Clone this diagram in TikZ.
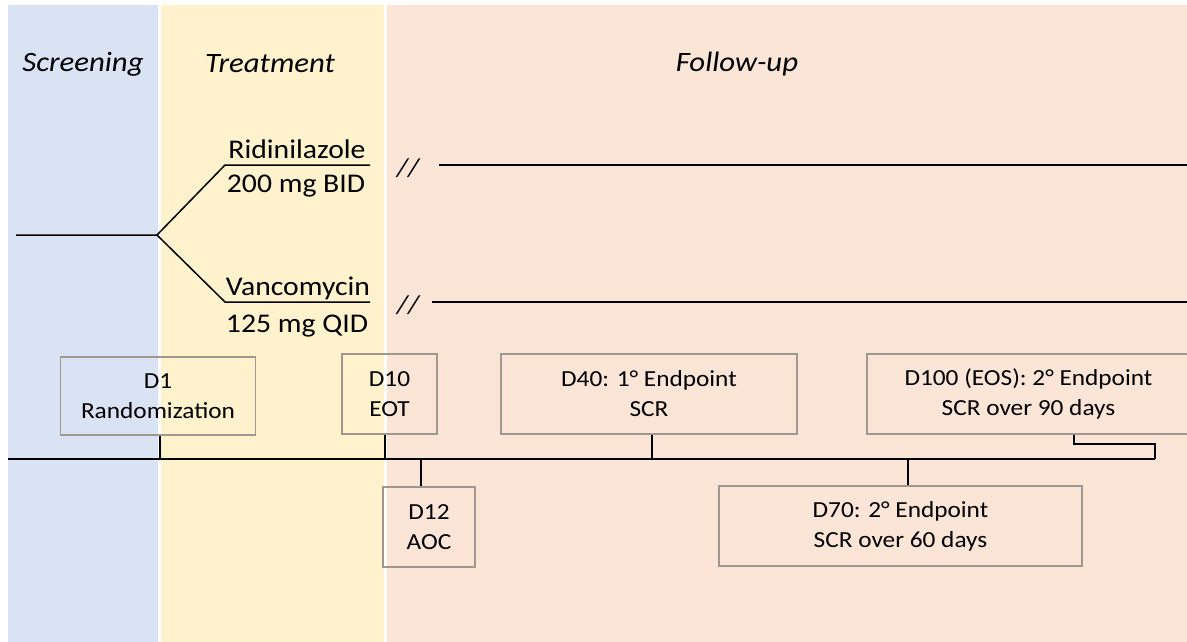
\documentclass[tikz,border=0pt]{standalone}
\usepackage{fontspec}
\setmainfont[FakeStretch=1.1]{Carlito}
\usetikzlibrary{positioning}
\definecolor{scrblue}{HTML}{DAE3F3}
\definecolor{trtyellow}{HTML}{FFF2CC}
\definecolor{fupink}{HTML}{FBE5D6}
\definecolor{boxgray}{HTML}{A0988F}

\begin{document}
\begin{tikzpicture}[x=1pt,y=-1pt,
  phase/.style={font=\fontsize{28}{32}\selectfont\itshape},
  arm/.style={font=\fontsize{27}{32}\selectfont,anchor=base},
  brk/.style={font=\fontsize{26}{30}\selectfont\itshape},
  event node/.style={draw=boxgray,line width=1.3pt,align=center,
    font=\fontsize{23}{30}\selectfont,inner sep=0pt},
  line/.style={black,line width=1.5pt}]
  \useasboundingbox (0,0) rectangle (1187,642);
  \fill[white] (0,0) rectangle (1187,642);

  % study phases
  \fill[scrblue] (8,5) rectangle (158,642);
  \fill[trtyellow] (161,5) rectangle (384,642);
  \fill[fupink] (387,5) rectangle (1187,642);
  \node[phase] (scr) at (83,64) {Screening};
  \node[phase] (trt) at (270,64) {Treatment};
  \node[phase] (fup) at (737,64) {Follow-up};

  % arms
  \coordinate (in) at (16,235);
  \coordinate (split) at (157,235);
  \coordinate (ridA) at (225,165);
  \coordinate (ridB) at (370,165);
  \coordinate (vanA) at (225,302);
  \coordinate (vanB) at (370,302);
  \node[arm] (rid) at (297,158) {Ridinilazole};
  \node[arm] (riddose) at (296,192) {200 mg BID};
  \node[arm] (van) at (298,295) {Vancomycin};
  \node[arm] (vandose) at (297,332) {125 mg QID};
  \draw[line] (in) -- (split) -- (ridA) -- (ridB);
  \draw[line] (split) -- (vanA) -- (vanB);
  \node[brk] (brk1) at (408,168) {//};
  \node[brk] (brk2) at (408,305) {//};
  \coordinate (ridC) at (439,165);
  \coordinate (ridD) at (1187,165);
  \coordinate (vanC) at (432,302);
  \coordinate (vanD) at (1187,302);
  \draw[line] (ridC) -- (ridD);
  \draw[line] (vanC) -- (vanD);

  % visits
  \node[event node,minimum width=195,minimum height=78] (d1) at (158,396) {D1\\Randomization};
  \node[event node,minimum width=95,minimum height=80] (d10) at (389.5,394) {D10\\EOT};
  \node[event node,minimum width=92,minimum height=80] (d12) at (429,527) {D12\\AOC};
  \node[event node,minimum width=296,minimum height=80] (d40) at (649,394) {D40: 1° Endpoint\\SCR};
  \node[event node,minimum width=363,minimum height=80] (d70) at (900.5,526) {D70: 2° Endpoint\\SCR over 60 days};
  \node[event node,minimum width=323,minimum height=80] (d100) at (1028.5,394) {D100 (EOS): 2° Endpoint\\SCR over 90 days};

  % timeline
  \coordinate (t0) at (8,459);
  \coordinate (tEnd) at (1155,459);
  \coordinate (t1) at (160,459);
  \coordinate (t10) at (385,459);
  \coordinate (t12) at (421,459);
  \coordinate (t40) at (652,459);
  \coordinate (t70) at (908,459);
  \coordinate (t100) at (1074,444);
  \draw[line] (t0) -- (tEnd);
  \draw[line] (t1) -- (t1 |- d1.south);
  \draw[line] (t10) -- (t10 |- d10.south);
  \draw[line] (t12) -- (t12 |- d12.north);
  \draw[line] (t40) -- (t40 |- d40.south);
  \draw[line] (t70) -- (t70 |- d70.north);
  \draw[line] (t100 |- d100.south) -- (t100) -| (tEnd);
\end{tikzpicture}
\end{document}
